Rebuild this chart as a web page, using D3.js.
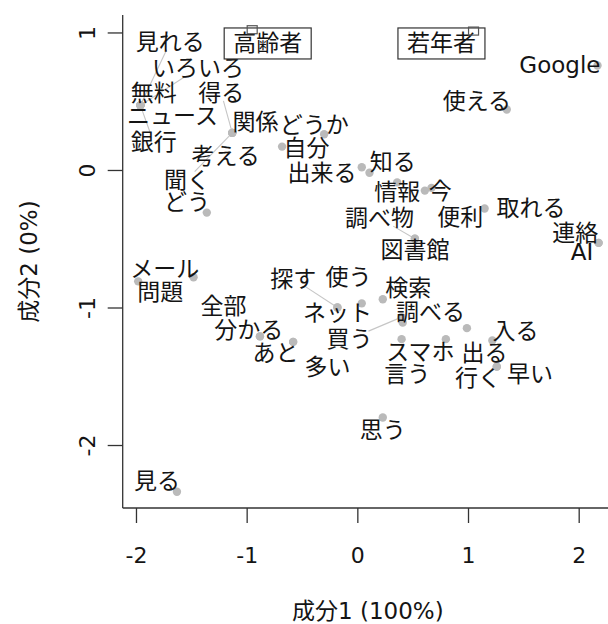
<!DOCTYPE html>
<html>
<head>
<meta charset="utf-8">
<script src="https://cdn.jsdelivr.net/npm/d3@7"></script>
<style>
  body { margin: 0; background: #fff; }
  svg { display: block; }
  text { font-family: "DejaVu Sans", "Noto Sans CJK JP", sans-serif; fill: #141414; }
</style>
</head>
<body>
<svg id="chart" width="608" height="624"></svg>
<script>
// row words of the correspondence analysis
const words = ["見れる","いろいろ","無料","ニュース","銀行","得る","関係","考える","聞く","どう",
  "自分","どうか","出来る","知る","情報","今","取れる","便利","調べ物","図書館",
  "使える","Google","連絡","AI","問題","メール","全部","分かる","あと","多い",
  "探す","ネット","使う","検索","買う","調べる","言う","スマホ","出る","入る",
  "行く","早い","思う","見る"]
const pointX = [-1.96,-1.96,-1.96,-1.96,-1.96,-1.13,-1.13,-1.13,-1.13,-1.36,
  -0.68,-0.30,0.04,0.11,0.36,0.61,0.67,1.15,0.52,0.52,
  1.35,2.17,2.18,2.18,-1.98,-1.48,-0.88,-0.88,-0.58,-0.58,
  -0.18,-0.18,0.04,0.23,0.40,0.41,0.40,0.80,0.99,1.22,
  1.26,1.26,0.23,-1.63]
const pointY = [0.47,0.47,0.47,0.47,0.47,0.27,0.27,0.27,0.27,-0.31,
  0.17,0.26,0.02,-0.02,-0.09,-0.15,-0.13,-0.28,-0.50,-0.50,
  0.44,0.76,-0.53,-0.53,-0.81,-0.78,-1.21,-1.21,-1.25,-1.25,
  -1.00,-1.00,-0.97,-0.94,-1.07,-1.11,-1.23,-1.23,-1.15,-1.24,
  -1.43,-1.43,-1.80,-2.34]
// where the repelled labels ended up (same units as the axes)
const labelX = [-1.69,-1.44,-1.84,-1.67,-1.84,-1.23,-0.92,-1.19,-1.54,-1.54,
  -0.46,-0.39,-0.32,0.32,0.36,0.75,1.57,0.93,0.20,0.52,
  1.08,1.83,1.97,2.03,-1.78,-1.74,-1.21,-0.98,-0.74,-0.27,
  -0.58,-0.18,-0.08,0.46,-0.07,0.66,0.45,0.57,1.15,1.43,
  1.09,1.56,0.23,-1.81]
const labelY = [0.93,0.74,0.56,0.39,0.20,0.56,0.35,0.10,-0.07,-0.23,
  0.16,0.33,-0.02,0.06,-0.16,-0.15,-0.28,-0.34,-0.35,-0.58,
  0.50,0.76,-0.46,-0.60,-0.89,-0.72,-0.99,-1.16,-1.33,-1.43,
  -0.79,-1.04,-0.78,-0.86,-1.23,-1.03,-1.48,-1.32,-1.33,-1.17,
  -1.51,-1.48,-1.89,-2.26]
const leaderWords = ["見れる","いろいろ","銀行","得る","聞く","探す","買う","調べ物"]

// column categories
const groups = ["高齢者","若年者"]
const groupX = [-0.95, 1.05]
const groupY = [1.02, 1.01]
const groupLabelX = [-0.81, 0.76]
const groupLabelY = [0.92, 0.92]

const xTicks = [-2, -1, 0, 1, 2]
const yTicks = [1, 0, -1, -2]
const xTitle = "成分1 (100%)"
const yTitle = "成分2 (0%)"

const svg = d3.select('#chart')
const plotL = 122.7, plotR = 613, plotT = 15, plotB = 508

const x = d3.scaleLinear().domain([-2.12, 2.31]).range([plotL, plotR])
const y = d3.scaleLinear().domain([-2.458, 1.127]).range([plotB, plotT])

// axes, R style (bty = "l")
const xAxis = svg.append('g')
  .attr('transform', `translate(0,${plotB})`)
  .call(d3.axisBottom(x).tickValues(xTicks).tickSize(15).tickPadding(24).tickFormat(d => String(d)))
xAxis.select('.domain').attr('d', `M${plotL},0H${plotR}`)

const yAxis = svg.append('g')
  .attr('transform', `translate(${plotL},0)`)
  .call(d3.axisLeft(y).tickValues(yTicks).tickSize(15).tickFormat(d => String(d)))
yAxis.select('.domain').attr('d', `M0,${plotT}V${plotB}`)
yAxis.selectAll('.tick text')
  .attr('x', null).attr('dy', null)
  .attr('text-anchor', 'middle')
  .attr('dominant-baseline', 'central')
  .attr('transform', 'translate(-35,0) rotate(-90)')

svg.selectAll('.tick text')
  .attr('font-size', 22)
  .attr('font-family', null)
  .attr('fill', '#141414')
svg.selectAll('.domain, .tick line').attr('stroke', '#333').attr('stroke-width', 1.3)

svg.append('text')
  .attr('x', (plotL + plotR) / 2).attr('y', 619)
  .attr('text-anchor', 'middle')
  .attr('font-size', 23)
  .text(xTitle)
svg.append('text')
  .attr('transform', `translate(29,${(plotT + plotB) / 2}) rotate(-90)`)
  .attr('text-anchor', 'middle')
  .attr('dominant-baseline', 'central')
  .attr('font-size', 23)
  .text(yTitle)

const rows = words.map((w, i) => ({
  word: w, px: pointX[i], py: pointY[i], lx: labelX[i], ly: labelY[i],
  leader: leaderWords.includes(w)
}))

const linesG = svg.append('g').attr('stroke', '#c6c6c6').attr('stroke-width', 1.1)
const dotsG = svg.append('g')
const labelsG = svg.append('g')

dotsG.selectAll('circle')
  .data(rows)
  .join('circle')
  .attr('cx', d => x(d.px))
  .attr('cy', d => y(d.py))
  .attr('r', 4.2)
  .attr('fill', '#bababa')

const labels = labelsG.selectAll('text')
  .data(rows)
  .join('text')
  .attr('x', d => x(d.lx))
  .attr('y', d => y(d.ly))
  .attr('text-anchor', 'middle')
  .attr('dominant-baseline', 'central')
  .attr('font-size', 23)
  .text(d => d.word)

// leader lines stop at the edge of the label box
labels.each(function (d) {
  if (!d.leader) return
  const b = this.getBBox()
  const x0 = x(d.px), y0 = y(d.py)
  const dx = b.x + b.width / 2 - x0, dy = b.y + b.height / 2 - y0
  const hw = b.width / 2, hh = b.height / 2 - 5
  const tx = dx !== 0 ? (Math.abs(dx) - hw) / Math.abs(dx) : 0
  const ty = dy !== 0 ? (Math.abs(dy) - hh) / Math.abs(dy) : 0
  const t = Math.max(0, tx, ty)
  linesG.append('line')
    .attr('x1', x0).attr('y1', y0)
    .attr('x2', x0 + dx * t).attr('y2', y0 + dy * t)
})

// column points with boxed labels
const cols = groups.map((g, i) => ({ name: g, px: groupX[i], py: groupY[i], lx: groupLabelX[i], ly: groupLabelY[i] }))
const colG = svg.append('g').selectAll('g').data(cols).join('g')
const colText = colG.append('text')
  .attr('x', d => x(d.lx))
  .attr('y', d => y(d.ly))
  .attr('text-anchor', 'middle')
  .attr('dominant-baseline', 'central')
  .attr('font-size', 23)
  .text(d => d.name)
colText.each(function () {
  const b = this.getBBox()
  const cy = b.y + b.height / 2
  d3.select(this.parentNode).insert('rect', 'text')
    .attr('x', b.x - 9).attr('y', cy - 15.5)
    .attr('width', b.width + 18).attr('height', 31)
    .attr('fill', '#fff').attr('stroke', '#333').attr('stroke-width', 1.2)
})
colG.append('rect')
  .attr('x', d => x(d.px) - 5)
  .attr('y', d => y(d.py) - 4)
  .attr('width', 10).attr('height', 8)
  .attr('fill', 'none')
  .attr('stroke', '#555')
  .attr('stroke-width', 1.2)
</script>
</body>
</html>
